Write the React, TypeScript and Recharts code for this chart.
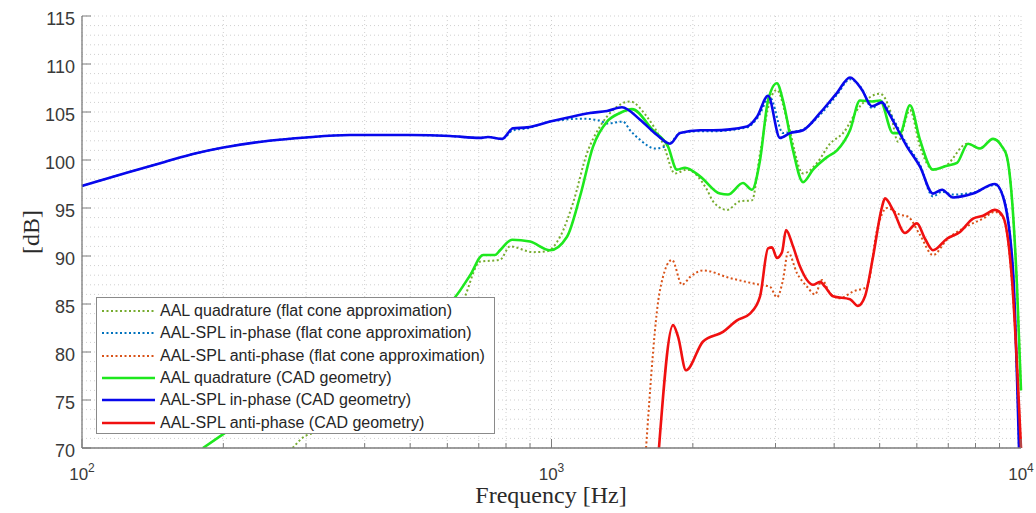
import React from 'react';
import { LineChart, Line, XAxis, YAxis, CartesianGrid, Legend, Label } from 'recharts';

// x ticks: decades labelled, minor ticks at 2..9 x decade
const xTicks = [100, 200, 300, 400, 500, 600, 700, 800, 900, 1000, 2000, 3000, 4000, 5000, 6000, 7000, 8000, 9000, 10000];
const decadeExp: Record<number, string> = { 100: '2', 1000: '3', 10000: '4' };
const yTicks = [70, 75, 80, 85, 90, 95, 100, 105, 110, 115];
const yGrid = Array.from({ length: 46 }, (_, i) => 70 + i);

// AAL quadrature (flat cone approximation)
const quadFlatHz = [281, 300, 329, 650, 704, 777, 816, 913, 978, 1043, 1111, 1190, 1269, 1352, 1470, 1597, 1728, 1832, 1943, 2144, 2208, 2365, 2520, 2673, 2781, 2920, 3021, 3174, 3434, 3678, 3920, 4178, 4540, 5008, 5260, 5470, 5801, 6093, 6494, 6955, 7674, 8179, 8718, 9110, 9337, 9806, 10000];
const quadFlatDb = [70, 71.3, 71.8, 85.5, 89.4, 89.6, 91.0, 90.4, 90.5, 92.0, 95.5, 100.7, 103.5, 105.2, 106.1, 104.5, 101.7, 98.6, 99.0, 96.9, 95.7, 94.8, 95.7, 95.8, 100.7, 106.2, 107.3, 104.2, 98.6, 99.7, 101.7, 102.8, 105.6, 106.9, 105.2, 101.9, 105.2, 101.4, 99.0, 99.5, 101.7, 101.2, 102.2, 101.4, 100.3, 86.8, 76.0];

// AAL-SPL in-phase (flat cone approximation)
const inFlatHz = [100, 125, 150, 175, 200, 250, 300, 372, 500, 608, 704, 732, 785, 828, 887, 993, 1167, 1269, 1313, 1420, 1470, 1544, 1661, 1745, 1788, 1878, 2072, 2208, 2608, 2740, 2920, 3112, 3221, 3434, 3733, 4056, 4323, 4585, 4815, 5057, 5183, 5717, 6093, 6494, 6786, 7164, 7903, 8803, 9155, 9616, 9902];
const inFlatDb = [97.3, 98.7, 99.8, 100.7, 101.3, 102.0, 102.35, 102.6, 102.6, 102.5, 102.3, 102.4, 102.2, 103.1, 103.3, 104.0, 104.3, 104.1, 103.8, 104.0, 103.1, 102.1, 101.2, 101.4, 101.7, 102.8, 103.0, 103.0, 103.4, 104.3, 106.5, 102.8, 102.9, 103.2, 104.7, 106.8, 108.4, 107.4, 105.4, 106.1, 105.4, 101.6, 99.5, 96.2, 96.7, 96.4, 96.6, 97.4, 96.3, 88.3, 70];

// AAL-SPL anti-phase (flat cone approximation)
const antiFlatHz = [1590, 1703, 1806, 1897, 1972, 2103, 2400, 2781, 2920, 3021, 3112, 3190, 3334, 3502, 3642, 3769, 3920, 4116, 4387, 4699, 4935, 5183, 5524, 5745, 6093, 6494, 6955, 7674, 8301, 8803, 9155, 9568, 10000];
const antiFlatDb = [70, 86.5, 89.6, 87.0, 87.8, 88.5, 87.7, 87.0, 86.8, 85.7, 87.5, 90.4, 88.2, 86.8, 86.0, 87.5, 86.1, 85.6, 86.3, 86.8, 92.7, 95.0, 94.3, 94.1, 92.2, 90.1, 91.7, 93.1, 93.9, 94.6, 94.0, 87.3, 70];

// AAL quadrature (CAD geometry)
const quadCadHz = [181, 202, 623, 671, 715, 758, 777, 824, 900, 993, 1079, 1150, 1226, 1313, 1399, 1484, 1645, 1771, 1850, 1925, 2072, 2285, 2376, 2558, 2673, 2781, 2892, 3021, 3112, 3269, 3434, 3606, 3862, 4056, 4323, 4540, 4815, 5008, 5338, 5524, 5801, 6093, 6494, 6955, 7306, 7711, 8179, 8718, 9110, 9337, 9806, 10000];
const quadCadDb = [70, 71.6, 85.7, 88.0, 90.1, 90.1, 90.6, 91.7, 91.5, 90.6, 92.0, 96.2, 101.4, 104.0, 104.9, 105.3, 103.1, 101.4, 99.0, 99.2, 98.3, 96.5, 96.4, 97.6, 96.9, 100.0, 106.2, 108.0, 106.2, 101.0, 97.7, 99.0, 100.3, 101.0, 103.1, 106.2, 106.1, 106.2, 102.8, 102.8, 105.7, 102.1, 99.0, 99.4, 99.7, 101.7, 101.2, 102.2, 101.4, 100.3, 86.8, 76.0];

// AAL-SPL in-phase (CAD geometry)
const inCadHz = [100, 125, 150, 175, 200, 250, 300, 372, 500, 608, 704, 732, 785, 828, 887, 993, 1079, 1208, 1313, 1413, 1544, 1678, 1788, 1878, 2072, 2208, 2608, 2740, 2892, 3066, 3221, 3434, 3733, 4056, 4323, 4585, 4815, 5057, 5183, 5717, 6093, 6494, 6786, 7164, 7903, 8803, 9155, 9616, 9902];
const inCadDb = [97.3, 98.7, 99.8, 100.7, 101.3, 102.0, 102.35, 102.6, 102.6, 102.5, 102.3, 102.4, 102.2, 103.3, 103.4, 104.0, 104.4, 104.9, 105.1, 105.5, 104.2, 102.6, 101.7, 102.8, 103.1, 103.1, 103.5, 104.5, 106.7, 102.3, 102.8, 103.1, 104.9, 107.0, 108.6, 107.3, 105.6, 106.0, 105.2, 101.4, 99.3, 96.5, 96.9, 96.1, 96.5, 97.5, 96.2, 88.5, 70];

// AAL-SPL anti-phase (CAD geometry)
const antiCadHz = [1694, 1815, 1860, 1934, 2103, 2319, 2484, 2647, 2781, 2892, 2948, 3021, 3097, 3159, 3269, 3383, 3606, 3733, 3824, 3978, 4323, 4495, 4653, 4839, 5057, 5132, 5338, 5661, 6003, 6244, 6494, 6955, 7414, 7903, 8301, 8803, 9155, 9568, 10000];
const antiCadDb = [70, 82.8, 81.6, 78.1, 81.1, 82.1, 83.3, 84.0, 85.8, 90.8, 90.9, 89.8, 90.4, 92.7, 91.0, 88.9, 87.0, 87.3, 86.8, 85.8, 85.5, 84.8, 85.8, 89.9, 95.1, 96.0, 94.8, 92.4, 93.4, 91.8, 90.6, 91.8, 92.5, 93.9, 94.2, 94.8, 94.1, 87.5, 70];

const zip = (hz: number[], db: number[]) => hz.map((f, i) => ({ f, db: db[i] }));

const series = [
  { name: 'AAL quadrature (flat cone approximation)', data: zip(quadFlatHz, quadFlatDb), color: '#77ac30', dash: '2 2.5', width: 2 },
  { name: 'AAL-SPL in-phase (flat cone approximation)', data: zip(inFlatHz, inFlatDb), color: '#0072bd', dash: '2 2.5', width: 2 },
  { name: 'AAL-SPL anti-phase (flat cone approximation)', data: zip(antiFlatHz, antiFlatDb), color: '#d95319', dash: '2 2.5', width: 2 },
  { name: 'AAL quadrature (CAD geometry)', data: zip(quadCadHz, quadCadDb), color: '#1ee81e', dash: undefined, width: 2.6 },
  { name: 'AAL-SPL in-phase (CAD geometry)', data: zip(inCadHz, inCadDb), color: '#0808ec', dash: undefined, width: 2.6 },
  { name: 'AAL-SPL anti-phase (CAD geometry)', data: zip(antiCadHz, antiCadDb), color: '#f01010', dash: undefined, width: 2.6 },
];

const axisColor = '#7c7c7c';
const textColor = '#3a3a3a';
const sans = '"Liberation Sans", Arial, sans-serif';
const serif = '"Liberation Serif", "Times New Roman", serif';

const BottomTick = ({ x, y, payload }: any) => {
  const exp = decadeExp[payload.value];
  return (
    <g>
      <line x1={x} y1={y} x2={x} y2={y - (exp ? 9 : 5)} stroke={axisColor} />
      {exp && (
        <text x={x} y={y + 32} textAnchor="middle" fontFamily={sans} fontSize={17} fill={textColor}>
          10<tspan dy={-8} fontSize={12}>{exp}</tspan>
        </text>
      )}
    </g>
  );
};

const TopTick = ({ x, y, payload }: any) => (
  <line x1={x} y1={y} x2={x} y2={y + (decadeExp[payload.value] ? 9 : 5)} stroke={axisColor} />
);

const LeftTick = ({ x, y, payload }: any) => (
  <g>
    <line x1={x} y1={y} x2={x + 9} y2={y} stroke={axisColor} />
    <text x={x - 7} y={y + 9} textAnchor="end" fontFamily={sans} fontSize={18} fill={textColor}>
      {payload.value}
    </text>
  </g>
);

const RightTick = ({ x, y }: any) => <line x1={x} y1={y} x2={x - 9} y2={y} stroke={axisColor} />;

const LegendBox = () => (
  <div
    style={{
      width: 399,
      height: 137,
      boxSizing: 'border-box',
      border: '1px solid #8a8a8a',
      background: '#fff',
      paddingTop: 2,
      fontFamily: sans,
      fontSize: 16,
      color: '#262626',
    }}
  >
    {series.map((s) => (
      <div key={s.name} style={{ display: 'flex', alignItems: 'center', height: 22.3, whiteSpace: 'nowrap' }}>
        <svg width={63} height={10} style={{ flex: 'none' }}>
          <line x1={5} y1={5} x2={58} y2={5} stroke={s.color} strokeWidth={s.width} strokeDasharray={s.dash} />
        </svg>
        <span>{s.name}</span>
      </div>
    ))}
  </div>
);

export default function App() {
  return (
    <div style={{ position: 'absolute', left: 0, top: 0, background: '#fff' }}>
      <LineChart width={1036} height={513} margin={{ top: 16, right: 15, bottom: 0, left: 0 }}>
        <CartesianGrid
          horizontalValues={yGrid}
          verticalValues={xTicks}
          stroke="#cfcfcf"
          strokeDasharray="1 3"
        />
        <XAxis
          dataKey="f"
          type="number"
          scale="log"
          domain={[100, 10000]}
          ticks={xTicks}
          interval={0}
          height={65}
          tickSize={0}
          tickMargin={0}
          tickLine={false}
          tick={<BottomTick />}
          axisLine={{ stroke: axisColor, strokeWidth: 1.3 }}
        >
          <Label
            content={() => (
              <text x={551} y={503} textAnchor="middle" fontFamily={serif} fontSize={24} fill="#2a2a2a">
                Frequency [Hz]
              </text>
            )}
          />
        </XAxis>
        <XAxis
          xAxisId="top"
          orientation="top"
          dataKey="f"
          type="number"
          scale="log"
          domain={[100, 10000]}
          ticks={xTicks}
          interval={0}
          height={0}
          tickSize={0}
          tickMargin={0}
          tickLine={false}
          tick={<TopTick />}
          axisLine={{ stroke: axisColor, strokeWidth: 1.3 }}
        />
        <YAxis
          type="number"
          domain={[70, 115]}
          ticks={yTicks}
          interval={0}
          allowDataOverflow
          width={82}
          tickSize={0}
          tickMargin={0}
          tickLine={false}
          tick={<LeftTick />}
          axisLine={{ stroke: axisColor, strokeWidth: 1.3 }}
        >
          <Label
            content={() => (
              <text
                x={31}
                y={232}
                transform="rotate(-90 31 232)"
                textAnchor="middle"
                dominantBaseline="central"
                fontFamily={serif}
                fontSize={24}
                fill="#2a2a2a"
              >
                [dB]
              </text>
            )}
          />
        </YAxis>
        <YAxis
          yAxisId="right"
          orientation="right"
          type="number"
          domain={[70, 115]}
          ticks={yTicks}
          interval={0}
          width={0}
          tickSize={0}
          tickMargin={0}
          tickLine={false}
          tick={<RightTick />}
          axisLine={{ stroke: axisColor, strokeWidth: 1.3 }}
        />
        {series.map((s) => (
          <Line
            key={s.name}
            name={s.name}
            data={s.data}
            dataKey="db"
            type="monotone"
            stroke={s.color}
            strokeWidth={s.width}
            strokeDasharray={s.dash}
            dot={false}
            activeDot={false}
            isAnimationActive={false}
          />
        ))}
        <Legend
          layout="vertical"
          align="center"
          verticalAlign="middle"
          content={<LegendBox />}
          wrapperStyle={{ left: 96, top: 297, width: 399, height: 137 }}
        />
      </LineChart>
    </div>
  );
}
